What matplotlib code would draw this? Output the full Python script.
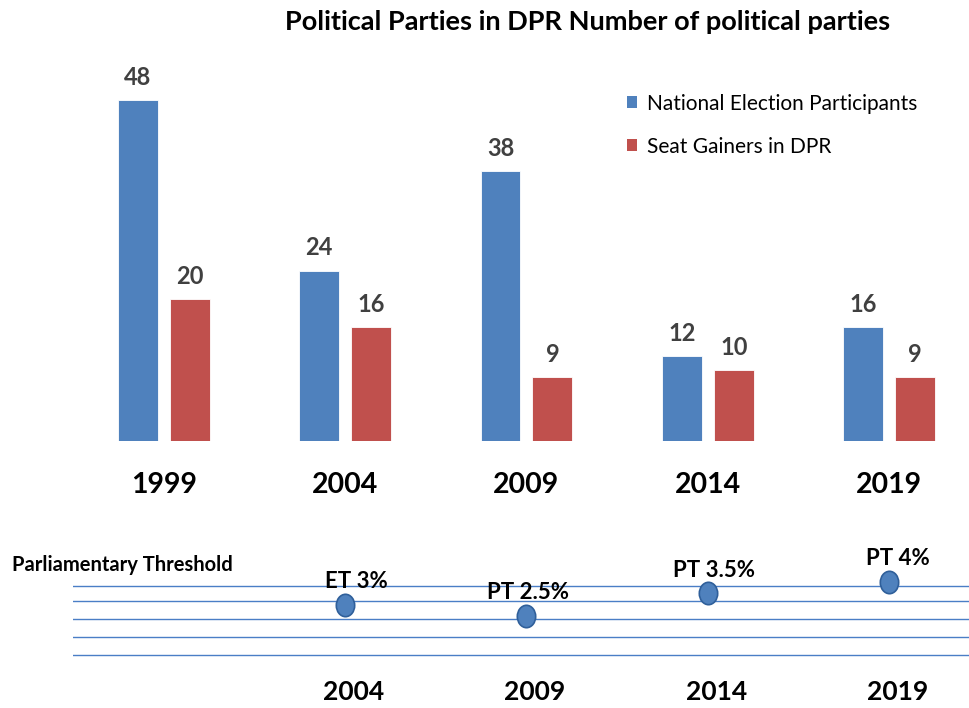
import matplotlib
matplotlib.use("Agg")
import matplotlib.pyplot as plt
from matplotlib.patches import Patch
from matplotlib.path import Path
from matplotlib.transforms import Affine2D
import numpy as np

plt.rcParams['font.family'] = ['Lato', 'DejaVu Sans']

years = ["1999", "2004", "2009", "2014", "2019"]
participants = [48, 24, 38, 12, 16]
seat_gainers = [20, 16, 9, 10, 9]
series_names = ["National Election Participants", "Seat Gainers in DPR"]

pt_years = ["2004", "2009", "2014", "2019"]
pt_values = [3.0, 2.5, 3.5, 4.0]
pt_labels = ["ET 3%", "PT 2.5%", "PT 3.5%", "PT 4%"]
pt_label_dx = [11, 2, 6, 9]

title = "Political Parties in DPR Number of political parties"

BLUE = "#4F81BD"
RED = "#C0504D"
GRID = "#4A7EC6"
TXT = "#404040"

W, H = 969, 708
fig = plt.figure(figsize=(W / 100, H / 100), dpi=100)

def px_axes(left, top, right, bottom):
    return fig.add_axes([left / W, 1 - bottom / H, (right - left) / W, (bottom - top) / H])

# ---- top bar chart ----
ax = px_axes(73, 60, 969, 441)
x = np.arange(len(years))
bw = 0.22
off = 0.143
b1 = ax.bar(x - off, participants, bw, color=BLUE, edgecolor="white", linewidth=0.6)
b2 = ax.bar(x + off, seat_gainers, bw, color=RED, edgecolor="white", linewidth=0.6)
for bars, vals in ((b1, participants), (b2, seat_gainers)):
    for r, v in zip(bars, vals):
        ax.annotate(str(v), (r.get_x() + r.get_width() / 2, v), xytext=(0, 8),
                    textcoords="offset points", ha="center", va="bottom",
                    fontsize=17, fontweight="bold", color=TXT)
ax.set_xlim(-0.5, 4.44)
ax.set_ylim(0, 53.66)
ax.axis("off")
for i, yr in enumerate(years):
    ax.text(i, -6.2, yr, ha="center", va="center", fontsize=20.5, fontweight="bold",
            color="black", clip_on=False)

handles = [Patch(facecolor=BLUE), Patch(facecolor=RED)]
ax.legend(handles, series_names, loc="upper left", bbox_to_anchor=(608 / W, 1 - 75 / H),
          bbox_transform=fig.transFigure, frameon=False, fontsize=15,
          handlelength=0.5, handleheight=0.5, handletextpad=0.45, labelspacing=1.1)

fig.text(588 / W, 1 - 22 / H, title, ha="center", va="center", fontsize=19.5,
         fontweight="bold", color="black")

# ---- bottom threshold panel ----
ax2 = px_axes(73, 560, 969, 670)
ax2.set_xlim(-0.5, 4.44)
ax2.set_ylim((672.7 - 670) / 22.7, (672.7 - 560) / 22.7)
ax2.axis("off")
for gv in [0.78, 1.57, 2.37, 3.16, 3.82]:
    ax2.axhline(gv, color=GRID, linewidth=1.0, zorder=1)
ellipse = Path(Affine2D().scale(0.82, 1.0).transform(Path.unit_circle().vertices),
               Path.unit_circle().codes)
px = np.arange(1, len(pt_years) + 1)
ax2.scatter(px, pt_values, s=260, marker=ellipse, color=BLUE, edgecolor="#2F5F9A",
            linewidth=1.2, zorder=3)
for xi, v, lab, dx in zip(px, pt_values, pt_labels, pt_label_dx):
    ax2.annotate(lab, (xi, v), xytext=(dx * 0.72, 9), textcoords="offset points",
                 ha="center", va="bottom", fontsize=16, fontweight="bold",
                 color="black", zorder=4)
for xi, yr in zip(px, pt_years):
    ax2.annotate(yr, (xi, 0.12), xycoords=("data", "data"), xytext=(6, -16),
                 textcoords="offset points", ha="center", va="center", fontsize=19,
                 fontweight="bold", color="black", annotation_clip=False)
fig.text(12 / W, 1 - 565 / H, "Parliamentary Threshold", ha="left", va="center",
         fontsize=14.5, fontweight="bold", color="black")

fig.savefig("out.png", dpi=100)
